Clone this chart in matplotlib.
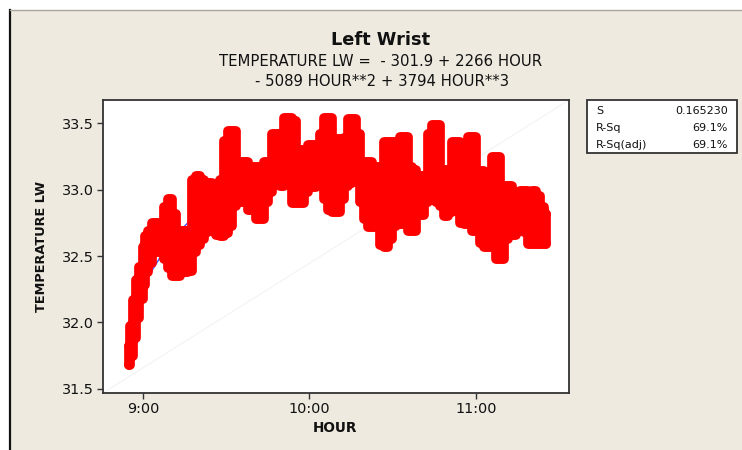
import numpy as np
import matplotlib
matplotlib.use("Agg")
import matplotlib.pyplot as plt
from matplotlib.patches import Rectangle
from matplotlib.lines import Line2D

# ---------------- data ----------------
# sample times, minutes after 8:00
MINUTES = [55.0, 56.0, 57.1, 58.2, 59.3, 60.4, 61.4, 62.5, 64.0, 65.4,
           66.8, 68.3, 69.7, 71.2, 72.6, 74.1, 75.5, 76.9, 78.4, 79.8,
           81.3, 82.7, 84.1, 85.6, 87.0, 88.5, 89.9, 91.4, 92.8, 94.2,
           95.7, 97.1, 98.6, 100.0, 101.4, 102.9, 104.3, 105.8, 107.2, 108.6,
           110.1, 111.5, 113.0, 114.4, 115.9, 117.3, 118.7, 120.2, 121.6, 123.1,
           124.5, 125.9, 127.4, 128.8, 130.3, 131.7, 133.2, 134.6, 136.0, 137.5,
           138.9, 140.4, 141.8, 143.2, 144.7, 146.1, 147.6, 149.0, 150.4, 151.9,
           153.3, 154.8, 156.2, 157.7, 159.1, 160.5, 162.0, 163.4, 164.9, 166.3,
           167.7, 169.2, 170.6, 172.1, 173.5, 174.9, 176.4, 177.8, 179.3, 180.7,
           182.2, 183.6, 185.0, 186.5, 187.9, 189.4, 190.8, 192.2, 193.7, 195.1,
           196.6, 198.0, 199.4, 200.9, 202.3, 203.8, 205.2]

# lowest reading around each sample time
TEMP_LOW = [31.68, 31.75, 31.88, 32.03, 32.18, 32.28, 32.38, 32.45, 32.53, 32.53,
            32.58, 32.48, 32.41, 32.35, 32.35, 32.38, 32.38, 32.39, 32.53, 32.58,
            32.63, 32.68, 32.73, 32.78, 32.66, 32.65, 32.67, 32.73, 32.88, 32.91,
            32.91, 32.93, 32.85, 32.85, 32.78, 32.78, 32.91, 32.98, 33.08, 33.08,
            33.03, 33.08, 33.08, 32.90, 32.90, 32.90, 32.98, 33.02, 33.02, 33.08,
            33.06, 32.93, 32.85, 32.83, 32.83, 32.93, 33.03, 33.05, 33.11, 33.08,
            32.91, 32.78, 32.72, 32.72, 32.78, 32.58, 32.57, 32.63, 32.73, 32.74,
            32.74, 32.78, 32.69, 32.69, 32.81, 32.81, 32.91, 32.93, 32.93, 32.91,
            32.88, 32.80, 32.83, 32.96, 32.96, 32.75, 32.74, 32.78, 32.69, 32.69,
            32.60, 32.57, 32.57, 32.63, 32.48, 32.48, 32.63, 32.66, 32.66, 32.73,
            32.73, 32.68, 32.59, 32.59, 32.59, 32.59, 32.59]

# highest reading around each sample time
TEMP_HIGH = [31.82, 31.97, 32.17, 32.32, 32.42, 32.57, 32.65, 32.69, 32.75, 32.75,
             32.72, 32.87, 32.93, 32.82, 32.67, 32.69, 32.69, 32.69, 33.07, 33.10,
             33.07, 33.05, 33.05, 33.02, 32.92, 33.07, 33.37, 33.44, 33.44, 33.17,
             33.21, 33.21, 33.12, 33.17, 33.17, 33.17, 33.21, 33.21, 33.42, 33.42,
             33.27, 33.54, 33.54, 33.52, 33.27, 33.30, 33.30, 33.34, 33.34, 33.32,
             33.42, 33.54, 33.54, 33.27, 33.38, 33.38, 33.39, 33.53, 33.53, 33.42,
             33.21, 33.21, 33.21, 33.17, 33.17, 33.12, 33.36, 33.36, 33.36, 33.32,
             33.40, 33.40, 33.17, 33.15, 33.07, 33.10, 33.10, 33.42, 33.49, 33.49,
             33.15, 33.15, 33.15, 33.36, 33.36, 33.27, 33.17, 33.40, 33.40, 33.14,
             33.14, 33.07, 32.97, 33.25, 33.25, 33.02, 33.03, 33.03, 32.97, 32.94,
             32.99, 32.99, 32.87, 32.99, 32.95, 32.87, 32.82]

# fitted cubic regression line
FIT_HOUR = [8.92, 9.0, 9.167, 9.333, 9.5, 9.75, 10.0, 10.25, 10.5, 10.75, 11.0, 11.25, 11.43]
FIT_TEMP = [32.08, 32.28, 32.62, 32.83, 33.00, 33.16, 33.21, 33.19, 33.12, 33.03, 32.93, 32.87, 32.85]

X_TICKS = [9.0, 10.0, 11.0]
X_TICK_LABELS = ["9:00", "10:00", "11:00"]
Y_TICKS = [31.5, 32.0, 32.5, 33.0, 33.5]

TITLE = "Left Wrist"
EQ_LINE1 = "TEMPERATURE LW =  - 301.9 + 2266 HOUR"
EQ_LINE2 = "- 5089 HOUR**2 + 3794 HOUR**3"
STATS = [("S", "0.165230"), ("R-Sq", "69.1%"), ("R-Sq(adj)", "69.1%")]

# ---------------- figure ----------------
BEIGE = "#eeeae0"
W, H = 742, 450
fig = plt.figure(figsize=(W / 100, H / 100), dpi=100, facecolor="white")

# beige panel with dark left border and grey top border
fig.patches.append(Rectangle((9 / W, 0), 1 - 9 / W, 1 - 10 / H, transform=fig.transFigure,
                             facecolor=BEIGE, edgecolor="none", zorder=-5))
fig.add_artist(Line2D([9.5 / W, 9.5 / W], [0, 1 - 10 / H], transform=fig.transFigure,
                      color="#111111", lw=1.6, zorder=-4))
fig.add_artist(Line2D([9.5 / W, 1], [1 - 10 / H, 1 - 10 / H], transform=fig.transFigure,
                      color="#a8a69e", lw=1.0, zorder=-4))

ax_l, ax_r, ax_t, ax_b = 103, 569, 100, 393
ax = fig.add_axes([ax_l / W, 1 - ax_b / H, (ax_r - ax_l) / W, (ax_b - ax_t) / H])
ax.set_facecolor("white")
ax.set_zorder(1)

hours = 8 + np.array(MINUTES) / 60.0
low = np.array(TEMP_LOW)
high = np.array(TEMP_HIGH)

# faint diagonal artefact
ax.plot([0, 1], [0, 1], transform=ax.transAxes, color="#f3f3f3", lw=0.8, zorder=1)

# fitted line
ax.plot(FIT_HOUR, FIT_TEMP, color="#4b4bff", lw=1.0, zorder=2)

# data (thick red symbols)
RED = "#ff0000"
ax.fill_between(hours, low, high, step="mid", color=RED, lw=0, zorder=3)
for arr in (high, low):
    ax.plot(hours, arr, color=RED, lw=7.0, drawstyle="steps-mid",
            solid_capstyle="round", solid_joinstyle="round", zorder=3)
ax.vlines(hours, low, high, color=RED, lw=7.0, zorder=3, capstyle="round")

ax.set_xlim(8.76, 11.56)
ax.set_ylim(31.468, 33.676)
ax.set_xticks(X_TICKS)
ax.set_xticklabels(X_TICK_LABELS)
ax.set_yticks(Y_TICKS)
ax.set_yticklabels([f"{v:.1f}" for v in Y_TICKS])
ax.tick_params(direction="out", length=4.5, width=1.0, color="#333333",
               labelsize=10.4, pad=2, labelcolor="#111111")
for sp in ax.spines.values():
    sp.set_color("#333333")
    sp.set_linewidth(1.3)

fig.text(42 / W, 1 - 246 / H, "TEMPERATURE LW", rotation=90, ha="center", va="center",
         fontsize=9.3, fontweight="bold", color="#111111")
fig.text(335 / W, 1 - 428.5 / H, "HOUR", ha="center", va="center",
         fontsize=9.8, fontweight="bold", color="#111111")

fig.text(381 / W, 1 - 40 / H, TITLE, ha="center", va="center", fontsize=12.8,
         fontweight="bold", color="#111111")
fig.text(381 / W, 1 - 61 / H, EQ_LINE1, ha="center", va="center", fontsize=10.7,
         color="#111111")
fig.text(382.5 / W, 1 - 81 / H, EQ_LINE2, ha="center", va="center", fontsize=10.7,
         color="#111111")

# statistics box
bx0, bx1, by0, by1 = 587, 736.5, 100, 153
fig.patches.append(Rectangle((bx0 / W, 1 - by1 / H), (bx1 - bx0) / W, (by1 - by0) / H,
                             transform=fig.transFigure, facecolor="white",
                             edgecolor="#333333", lw=1.3, zorder=2))
row_y = [110.5, 128, 145]
for (lab, val), yy in zip(STATS, row_y):
    fig.text(596 / W, 1 - yy / H, lab, ha="left", va="center", fontsize=8.0,
             color="#111111", zorder=3)
    fig.text(728 / W, 1 - yy / H, val, ha="right", va="center", fontsize=8.0,
             color="#111111", zorder=3)

fig.savefig("out.png", dpi=100, facecolor=fig.get_facecolor())
